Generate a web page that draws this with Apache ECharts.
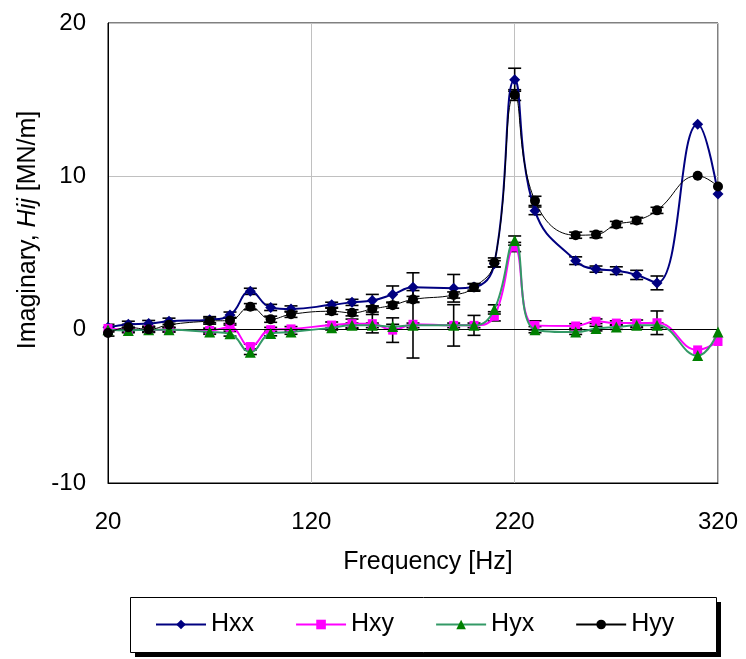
<!DOCTYPE html>
<html>
<head>
<meta charset="utf-8">
<script src="https://cdn.jsdelivr.net/npm/echarts@6/dist/echarts.min.js"></script>
<style>
html,body{margin:0;padding:0;background:#fff;}
#c{width:746px;height:659px;}
</style>
</head>
<body>
<div id="c"></div>
<script>
// ---- data ----
const freq = [20,30,40,50,70,80,90,100,110,130,140,150,160,170,190,200,210,220,230,250,260,270,280,290,310,320];
const Hxx = [0.15,0.35,0.4,0.55,0.65,0.95,2.5,1.45,1.35,1.62,1.78,1.9,2.3,2.76,2.7,2.78,4.3,16.3,7.75,4.5,3.95,3.85,3.57,3.05,13.4,8.85];
const Hxy = [0.08,0.0,0.0,0.0,-0.05,0.15,-1.1,0.0,0.05,0.3,0.39,0.39,-0.03,0.35,0.28,0.28,0.87,5.39,0.28,0.24,0.55,0.43,0.43,0.45,-1.32,-0.77];
const Hyx = [0.0,-0.05,0.0,0.0,-0.15,-0.27,-1.47,-0.25,-0.15,0.13,0.28,0.28,0.2,0.28,0.28,0.28,1.32,5.81,0.0,-0.16,0.07,0.17,0.28,0.28,-1.69,-0.16];
const Hyy = [-0.22,0.15,0.02,0.32,0.56,0.6,1.5,0.68,1.0,1.2,1.1,1.35,1.6,1.97,2.26,2.76,4.38,15.3,8.4,6.16,6.2,6.86,7.12,7.78,10.04,9.34];
// error bar half-lengths
const errHxx = [0.2,0.2,0.2,0.2,0.2,0.2,0.2,0.2,0.2,0.17,0.2,0.4,0.55,0.95,0.9,0.2,0.2,0.75,0.25,0.25,0.2,0.25,0.3,0.45,0,0];
const errHxy = [0.15,0.15,0.15,0.15,0.15,0.15,0.15,0.15,0.15,0.2,0.3,0.6,0.8,2.2,1.35,0.65,0.3,0.3,0.3,0.15,0.15,0.15,0.2,0.77,0,0];
const errHyx = [0.15,0.15,0.15,0.15,0.15,0.15,0.15,0.15,0.15,0.15,0.15,0.15,0.15,0.15,0.15,0.15,0.3,0.3,0.2,0.15,0.15,0.15,0.15,0.15,0,0];
const errHyy = [0.2,0.2,0.2,0.2,0.2,0.2,0.2,0.2,0.2,0.2,0.2,0.2,0.2,0.2,0.2,0.25,0.3,0.35,0.3,0.2,0.2,0.2,0.2,0.2,0,0];
const xTicks = {min:20, max:320, interval:100};
const yTicks = {min:-10, max:20, interval:10};
const xTitle = 'Frequency [Hz]';
const yTitleParts = ['Imaginary, ', 'Hij', ' [MN/m]'];
const seriesNames = ['Hxx','Hxy','Hyx','Hyy'];

const FONT = "'Liberation Sans', Arial, sans-serif";
const pairs = (ys) => freq.map((f,i)=>[f, ys[i]]);
const triples = (ys, es) => freq.map((f,i)=>[f, ys[i], es[i]]);

function errRender(params, api){
  const x = api.value(0), y = api.value(1), e = api.value(2);
  if (!e) return {type:'group', children:[]};
  const top = api.coord([x, y+e]), bot = api.coord([x, y-e]);
  const w = 6.5;
  const st = {stroke:'#000', lineWidth:1.6};
  return {type:'group', children:[
    {type:'line', shape:{x1:top[0],y1:top[1],x2:bot[0],y2:bot[1]}, style:st},
    {type:'line', shape:{x1:top[0]-w,y1:top[1],x2:top[0]+w,y2:top[1]}, style:st},
    {type:'line', shape:{x1:bot[0]-w,y1:bot[1],x2:bot[0]+w,y2:bot[1]}, style:st}
  ]};
}
function errSeries(name, ys, es){
  return {type:'custom', name:name, renderItem:errRender, data:triples(ys, es),
    encode:{x:0,y:1}, z:1, silent:true, clip:true};
}
function lineSeries(name, ys, color, lw, symbol, size, mcolor, z){
  return {type:'line', name:name, data:pairs(ys), smooth:0.45,
    symbol:symbol, symbolSize:size, showSymbol:true,
    lineStyle:{color:color, width:lw},
    itemStyle:{color:mcolor||color, borderWidth:0},
    z:z, animation:false};
}

const chart = echarts.init(document.getElementById('c'), null, {renderer:'canvas'});
const hxx = lineSeries(seriesNames[0], Hxx, '#000080', 2, 'diamond', 11, '#000080', 3);
hxx.markLine = {silent:true, symbol:'none', label:{show:false}, animation:false,
  lineStyle:{color:'#000', width:1, type:'solid'}, data:[{yAxis:0}]};
chart.setOption({
  animation:false,
  backgroundColor:'#fff',
  textStyle:{fontFamily:FONT},
  grid:{left:108, right:28, top:23, bottom:176, show:true, borderColor:'#000', borderWidth:1, backgroundColor:'transparent'},
  xAxis:{type:'value', min:xTicks.min, max:xTicks.max, interval:xTicks.interval,
    axisLine:{onZero:false, lineStyle:{color:'#000', width:1}},
    axisTick:{show:false},
    axisLabel:{fontSize:24, color:'#000', margin:27, fontFamily:FONT},
    splitLine:{show:true, lineStyle:{color:'#c0c0c0', width:1}}},
  yAxis:{type:'value', min:yTicks.min, max:yTicks.max, interval:yTicks.interval,
    axisLine:{lineStyle:{color:'#000', width:1}},
    axisTick:{show:false},
    axisLabel:{fontSize:24, color:'#000', margin:22, fontFamily:FONT},
    splitLine:{show:true, lineStyle:{color:'#c0c0c0', width:1}}},
  graphic:[
    {type:'rect', z:0, silent:true, shape:{x:135, y:602, width:586, height:55}, style:{fill:'#000'}},
    {type:'rect', z:1, silent:true, shape:{x:130.5, y:597.5, width:586, height:55}, style:{fill:'#fff', stroke:'#000', lineWidth:1}},
    {type:'text', z:10, silent:true, x:428, y:562, style:{text:xTitle, fontSize:25, fill:'#000', fontFamily:FONT, align:'center', verticalAlign:'middle'}},
    {type:'text', z:10, silent:true, x:28, y:230, rotation:Math.PI/2,
      style:{text:'{n|'+yTitleParts[0]+'}{i|'+yTitleParts[1]+'}{n|'+yTitleParts[2]+'}', fontSize:25, fill:'#000', fontFamily:FONT, align:'center', verticalAlign:'middle',
        rich:{n:{fontSize:25, fill:'#000', fontFamily:FONT}, i:{fontSize:25, fill:'#000', fontStyle:'italic', fontFamily:FONT}}}}
  ],
  legend:{data:seriesNames, left:155, top:612, z:20,
    itemWidth:50, itemHeight:12, itemGap:41,
    padding:0,
    textStyle:{fontSize:25, color:'#000', fontFamily:FONT}},
  series:[
    errSeries('eHxx', Hxx, errHxx),
    errSeries('eHxy', Hxy, errHxy),
    errSeries('eHyx', Hyx, errHyx),
    errSeries('eHyy', Hyy, errHyy),
    hxx,
    lineSeries(seriesNames[1], Hxy, '#FF00FF', 2, 'rect', 9, '#FF00FF', 4),
    lineSeries(seriesNames[2], Hyx, '#339966', 2, 'triangle', 11, '#008000', 5),
    lineSeries(seriesNames[3], Hyy, '#000000', 1, 'circle', 10, '#000000', 6)
  ]
});
</script>
</body>
</html>
